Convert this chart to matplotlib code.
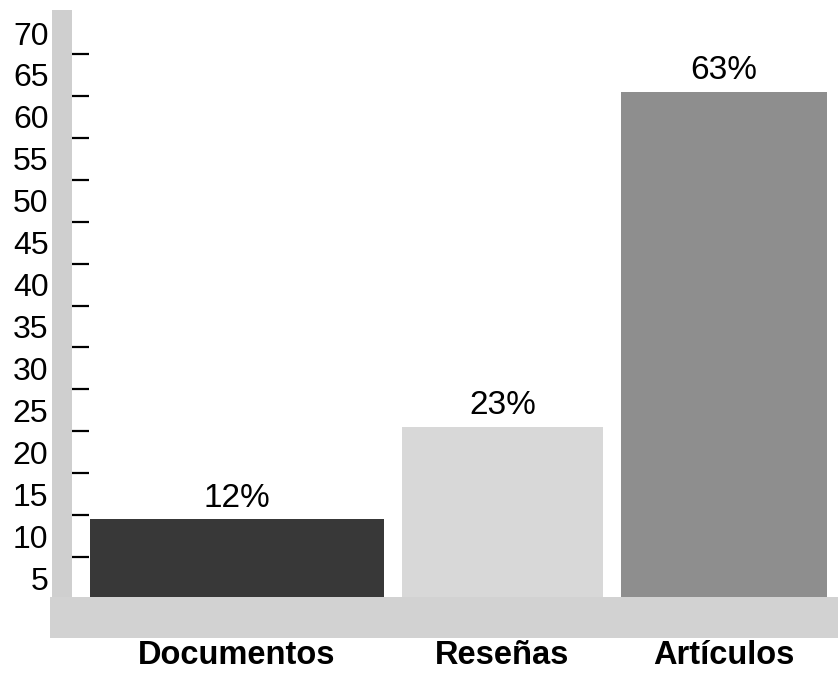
import matplotlib
matplotlib.use("Agg")
import matplotlib.pyplot as plt
from matplotlib.patches import Rectangle

# Data
categories = ["Documentos", "Reseñas", "Artículos"]
values = [12, 23, 63]
value_labels = ["12%", "23%", "63%"]
ytick_values = [5, 10, 15, 20, 25, 30, 35, 40, 45, 50, 55, 60, 65, 70]
minor_ticks = [7.5, 12.5, 17.5, 22.5, 27.5, 32.5, 37.5, 42.5, 47.5, 52.5, 57.5, 62.5, 67.5]

# Layout (pixel-like units on x)
bar_left = [90, 402, 621]
bar_width = [294, 201, 206]
bar_colors = ["#383838", "#d8d8d8", "#8e8e8e"]

W, H = 838, 679
fig = plt.figure(figsize=(W / 100, H / 100), dpi=100)
fig.patch.set_facecolor("white")

px0 = 620.0
ppu = 8.385
floor_top = 597
ax = fig.add_axes([72 / W, (H - floor_top) / H, 1 - 72 / W, floor_top / H])
ax.set_xlim(72, 838)
ax.set_ylim((px0 - floor_top) / ppu, px0 / ppu)
ax.set_facecolor("none")
for s in ax.spines.values():
    s.set_visible(False)

for l, w, v, c, lab in zip(bar_left, bar_width, values, bar_colors, value_labels):
    ax.bar(l, v, width=w, align="edge", color=c, edgecolor="none", zorder=2)
    ax.text(l + w / 2, v + 0.7, lab, ha="center", va="bottom",
            fontsize=24, family="Liberation Sans", color="black")

ax.set_xticks([])
ax.set_yticks(ytick_values)
ax.set_yticklabels([str(v) for v in ytick_values], family="Liberation Sans", fontsize=23)
ax.tick_params(axis="y", which="major", length=0, pad=17)
ax.set_yticks(minor_ticks, minor=True)
ax.tick_params(axis="y", which="minor", direction="in", length=12.5, width=1.6, color="black")

# wall and floor
fig.patches.append(Rectangle((52 / W, (H - floor_top) / H), 20 / W, (floor_top - 10) / H,
                             transform=fig.transFigure, facecolor="#cfcfcf", edgecolor="none", zorder=0))
fig.patches.append(Rectangle((50 / W, (H - 638) / H), (W - 50) / W, 41 / H,
                             transform=fig.transFigure, facecolor="#d2d2d2", edgecolor="none", zorder=0))

# category labels
for l, w, cat in zip(bar_left, bar_width, categories):
    fig.text((l + w / 2) / W, (H - 656) / H, cat, ha="center", va="center",
             fontsize=23.5, fontweight="bold", family="Liberation Sans")

fig.savefig("out.png", dpi=100)
